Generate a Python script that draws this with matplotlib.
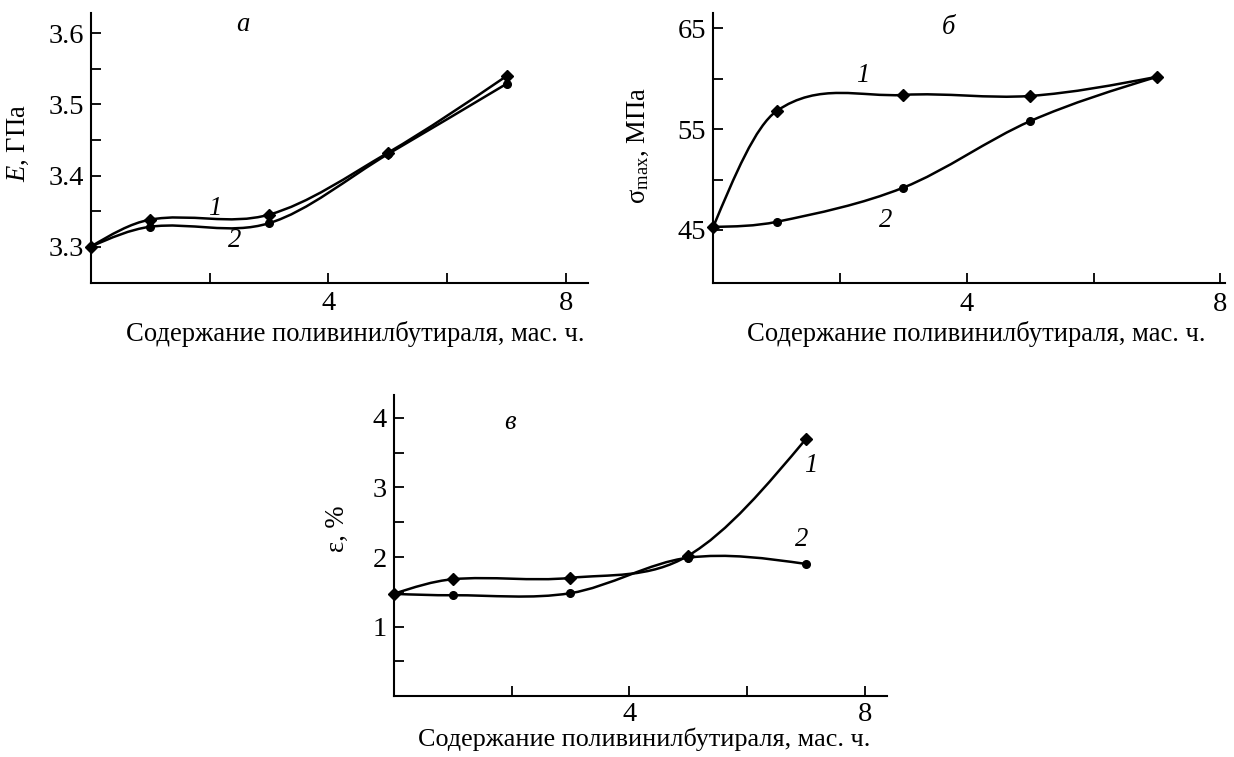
import numpy as np
import matplotlib
matplotlib.use("Agg")
import matplotlib.pyplot as plt
from matplotlib.path import Path
from matplotlib.patches import PathPatch

# --- data ---
pvb_content = [0, 1, 3, 5, 7]          # мас. ч.
E_curve1 = [3.300, 3.338, 3.345, 3.432, 3.540]
E_curve2 = [3.300, 3.328, 3.333, 3.430, 3.529]
sigma_curve1 = [45.3, 56.8, 58.4, 58.3, 60.2]
sigma_curve2 = [45.3, 45.8, 49.2, 55.8, 60.2]
eps_curve1 = [1.47, 1.68, 1.70, 2.02, 3.70]
eps_curve2 = [1.47, 1.45, 1.48, 1.99, 1.90]

x_label = "Содержание поливинилбутираля, мас. ч."

plt.rcParams["font.family"] = ["Liberation Serif", "DejaVu Serif"]
plt.rcParams["mathtext.fontset"] = "custom"
plt.rcParams["mathtext.rm"] = "Liberation Serif"
plt.rcParams["mathtext.it"] = "Liberation Serif:italic"
FS = 19.2      # axis labels / curve labels
TICK_FS = 20.5


def smooth_path(x, y):
    """Cubic Bezier path through the points (Catmull-Rom tangents, natural ends)."""
    x = np.asarray(x, float)
    y = np.asarray(y, float)
    n = len(x)
    m = np.zeros(n)
    for i in range(1, n - 1):
        m[i] = (y[i + 1] - y[i - 1]) / (x[i + 1] - x[i - 1])
    m[0] = (3 * (y[1] - y[0]) / (x[1] - x[0]) - m[1]) / 2
    m[-1] = (3 * (y[-1] - y[-2]) / (x[-1] - x[-2]) - m[-2]) / 2
    verts = [(x[0], y[0])]
    codes = [Path.MOVETO]
    for i in range(n - 1):
        h = x[i + 1] - x[i]
        verts += [(x[i] + h / 3, y[i] + m[i] * h / 3),
                  (x[i + 1] - h / 3, y[i + 1] - m[i + 1] * h / 3),
                  (x[i + 1], y[i + 1])]
        codes += [Path.CURVE4] * 3
    return Path(verts, codes)


def draw_curve(ax, x, y, marker, ms):
    ax.add_patch(PathPatch(smooth_path(x, y), fill=False, ec="k", lw=1.8))
    ax.plot(x, y, linestyle="none", marker=marker, ms=ms, color="k", clip_on=False, zorder=3)


def style_axes(ax, xmax, ylim, major, minor):
    for side in ("top", "right"):
        ax.spines[side].set_visible(False)
    for side in ("left", "bottom"):
        ax.spines[side].set_linewidth(1.5)
    ax.set_xlim(0, xmax)
    ax.set_ylim(*ylim)
    ax.set_xticks([4, 8])
    ax.set_xticks([2, 6], minor=True)
    ax.set_yticks(major)
    ax.set_yticks(minor, minor=True)
    ax.tick_params(which="both", direction="in", length=7, width=1.3, labelsize=TICK_FS)
    ax.tick_params(axis="x", pad=6)
    ax.tick_params(axis="y", pad=5)


fig = plt.figure(figsize=(12.34, 7.57), dpi=100)

# --- panel а ---
ax_a = fig.add_axes([0.0735, 0.6262, 0.4026, 0.3562])
draw_curve(ax_a, pvb_content, E_curve1, "D", 6)
draw_curve(ax_a, pvb_content, E_curve2, "o", 5.5)
style_axes(ax_a, 8.36, (3.249, 3.628), [3.3, 3.4, 3.5, 3.6], [3.35, 3.45, 3.55])
ax_a.set_ylabel("$E$, ГПа", fontsize=FS)
ax_a.yaxis.set_label_coords(-0.12, 0.52)
ax_a.set_xlabel(x_label, fontsize=FS)
ax_a.xaxis.set_label_coords(0.532, -0.14)
ax_a.text(2.08, 3.354, "1", fontsize=FS, style="italic", ha="center", va="center")
ax_a.text(2.42, 3.309, "2", fontsize=FS, style="italic", ha="center", va="center")
ax_a.text(2.56, 3.612, "а", fontsize=FS, style="italic", ha="center", va="center")

# --- panel б ---
ax_b = fig.add_axes([0.578, 0.6258, 0.4146, 0.3566])
draw_curve(ax_b, pvb_content, sigma_curve1, "D", 6)
draw_curve(ax_b, pvb_content, sigma_curve2, "o", 5.5)
style_axes(ax_b, 8.07, (39.7, 66.5), [45, 55, 65], [50, 60])
ax_b.set_ylabel("σ$_{\\mathrm{max}}$, МПа", fontsize=FS)
ax_b.yaxis.set_label_coords(-0.122, 0.51)
ax_b.set_xlabel(x_label, fontsize=FS)
ax_b.xaxis.set_label_coords(0.514, -0.14)
ax_b.text(2.35, 60.3, "1", fontsize=FS, style="italic", ha="center", va="center")
ax_b.text(2.72, 45.9, "2", fontsize=FS, style="italic", ha="center", va="center")
ax_b.text(3.71, 65.1, "б", fontsize=FS, style="italic", ha="center", va="center")

# --- panel в ---
ax_c = fig.add_axes([0.3191, 0.0805, 0.4, 0.3977])
draw_curve(ax_c, pvb_content, eps_curve1, "D", 6)
draw_curve(ax_c, pvb_content, eps_curve2, "o", 5.5)
style_axes(ax_c, 8.38, (0, 4.33), [1, 2, 3, 4], [0.5, 1.5, 2.5, 3.5])
ax_c.tick_params(axis="x", pad=4)
ax_c.set_ylabel("ε, %", fontsize=FS)
ax_c.yaxis.set_label_coords(-0.089, 0.557)
ax_c.set_xlabel(x_label, fontsize=18.8)
ax_c.xaxis.set_label_coords(0.508, -0.105)
ax_c.text(7.08, 3.31, "1", fontsize=FS, style="italic", ha="center", va="center")
ax_c.text(6.93, 2.25, "2", fontsize=FS, style="italic", ha="center", va="center")
ax_c.text(1.97, 3.93, "в", fontsize=FS, style="italic", ha="center", va="center")

fig.savefig("out.png", dpi=100)
